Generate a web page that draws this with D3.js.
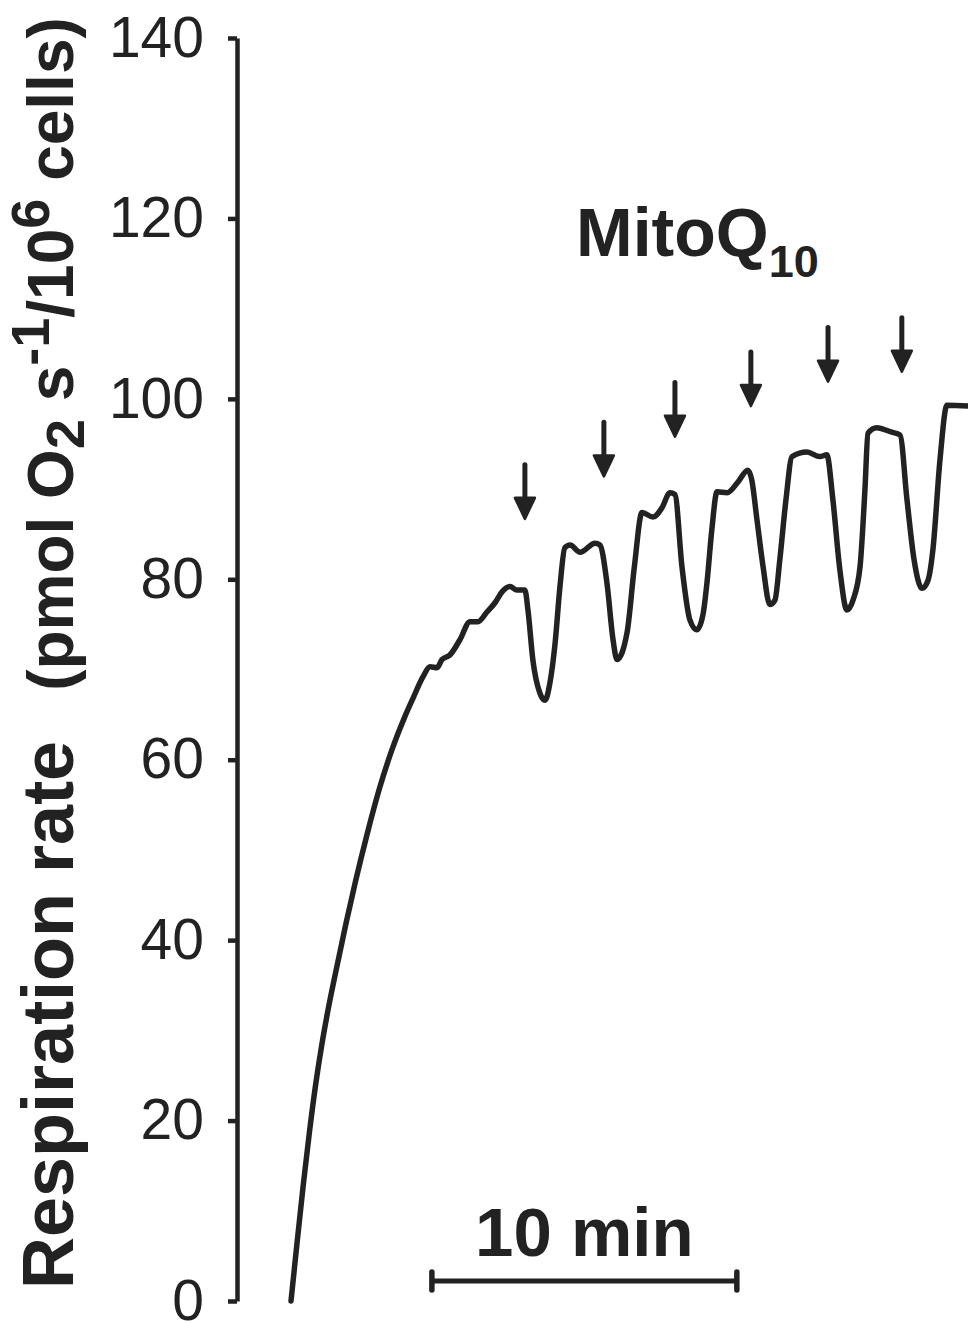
<!DOCTYPE html>
<html>
<head>
<meta charset="utf-8">
<script src="https://cdn.jsdelivr.net/npm/d3@7"></script>
<style>
  body { margin: 0; background: #fff; }
  text { font-family: "Liberation Sans", Arial, sans-serif; fill: #222; }
</style>
</head>
<body>
<svg width="968" height="1324"></svg>
<script>
// trace: time in minutes from trace start, rate in pmol O2/s/10^6 cells
var traceTime = [0, 0.2, 0.4, 0.6, 0.8, 1.0, 1.2, 1.5, 1.8, 2.1, 2.5, 2.9, 3.3, 3.7, 4.0, 4.33, 4.56,
  4.79, 4.95, 5.21, 5.54, 5.87, 6.13, 6.43, 6.69, 6.92, 7.18, 7.41, 7.67, 7.77, 7.93, 8.16, 8.33, 8.49, 8.66, 8.82, 8.98,
  9.15, 9.48, 9.97, 10.13, 10.36, 10.56, 10.69, 11.02, 11.26, 11.51, 11.87, 12.16, 12.43, 12.59, 12.82, 13.08, 13.31, 13.51, 13.64, 13.80,
  13.97, 14.30, 14.66, 14.98, 15.11, 15.28, 15.48, 15.70, 15.87, 16.03, 16.23, 16.43, 16.92, 17.34, 17.57, 17.77, 18.00, 18.23, 18.43, 18.66,
  18.82, 18.92, 19.21, 19.70, 19.97, 20.20, 20.43, 20.69, 20.89, 21.05, 21.28, 21.51, 22.20];
var traceRate = [0, 6.5, 12.8, 18.6, 23.8, 28.2, 32.0, 37.0, 41.8, 46.3, 51.8, 56.8, 61.0, 64.5, 66.8, 69.2, 70.3,
  70.2, 71.1, 71.6, 73.3, 75.3, 75.3, 76.4, 77.4, 78.6, 79.2, 78.8, 78.8, 76.6, 71.1, 67.4, 66.6, 68.5, 72.9, 79.2, 83.5,
  83.8, 83.0, 84.0, 83.8, 79.6, 73.3, 71.1, 74.1, 81.4, 87.4, 86.9, 87.9, 89.6, 89.4, 81.4, 75.5, 74.4, 76.1, 79.6, 85.5,
  89.7, 89.6, 90.8, 92.1, 91.0, 86.6, 81.4, 77.2, 77.7, 82.2, 88.8, 93.6, 94.1, 93.6, 93.8, 88.8, 81.0, 76.6, 77.7, 81.4,
  89.9, 96.2, 96.8, 96.3, 96.0, 88.8, 82.2, 79.0, 79.9, 83.3, 93.2, 99.3, 99.2];

// MitoQ10 additions (arrows): time and rate at the arrow tip
var arrowTime = [7.67, 10.26, 12.59, 15.08, 17.61, 20.03];
var arrowTip = [86.7, 91.4, 95.8, 99.2, 101.9, 103.0];
var arrowLen = 6.0;

var yTicks = [0, 20, 40, 60, 80, 100, 120, 140];

// 10 min scale bar
var barStart = 4.62, barLength = 10;

var svg = d3.select("svg");
var ink = "#222";

var x = d3.scaleLinear().domain([0, 22.2]).range([291, 968]);
var y = d3.scaleLinear().domain([0, 140]).range([1301, 38]);

// y axis
var yAxis = svg.append("g")
    .attr("transform", "translate(237,0)")
    .call(d3.axisLeft(y)
      .tickValues(yTicks)
      .tickSize(9)
      .tickSizeOuter(0)
      .tickPadding(24));

yAxis.select(".domain").attr("stroke", ink).attr("stroke-width", 4.5);
yAxis.selectAll(".tick line").attr("stroke", ink).attr("stroke-width", 4.5);
yAxis.selectAll(".tick text")
    .attr("fill", ink)
    .style("font-size", "57px")
    .style("font-family", "'Liberation Sans', Arial, sans-serif");

// y axis title, one rotated line
var title = svg.append("text")
    .attr("transform", "translate(73,1289) rotate(-90)")
    .style("font-weight", "bold");
title.append("tspan").style("font-size", "72px").text("Respiration rate");
title.append("tspan").attr("dx", 50).style("font-size", "64px").text("(pmol O");
title.append("tspan").attr("dy", 11).style("font-size", "54px").text("2");
title.append("tspan").attr("dy", -11).style("font-size", "64px").text(" s");
title.append("tspan").attr("dy", -24).style("font-size", "54px").text("-1");
title.append("tspan").attr("dy", 24).style("font-size", "64px").text("/10");
title.append("tspan").attr("dy", -24).style("font-size", "54px").text("6");
title.append("tspan").attr("dy", 24).style("font-size", "64px").text(" cells)");

// trace
var pts = traceTime.map(function(t, i) { return [t, traceRate[i]]; });
var line = d3.line()
    .curve(d3.curveMonotoneX)
    .x(function(d) { return x(d[0]); })
    .y(function(d) { return y(d[1]); });

svg.append("path")
    .datum(pts)
    .attr("d", line)
    .attr("fill", "none")
    .attr("stroke", ink)
    .attr("stroke-width", 5.5)
    .attr("stroke-linejoin", "round")
    .attr("stroke-linecap", "round");

// arrows
var arrows = svg.selectAll(".arrow")
    .data(arrowTime.map(function(t, i) { return {t: t, v: arrowTip[i]}; }))
    .enter().append("g")
    .attr("class", "arrow");

arrows.append("line")
    .attr("x1", function(d) { return x(d.t); })
    .attr("x2", function(d) { return x(d.t); })
    .attr("y1", function(d) { return y(d.v + arrowLen); })
    .attr("y2", function(d) { return y(d.v) - 18; })
    .attr("stroke", ink)
    .attr("stroke-width", 5)
    .attr("stroke-linecap", "round");

arrows.append("path")
    .attr("d", function(d) {
      var px = x(d.t), py = y(d.v);
      return "M" + (px - 10) + "," + (py - 21) + "L" + (px + 10) + "," + (py - 21) + "L" + px + "," + py + "Z";
    })
    .attr("fill", ink)
    .attr("stroke", ink)
    .attr("stroke-width", 2.5)
    .attr("stroke-linejoin", "round");

// MitoQ10 label
var lab = svg.append("text")
    .attr("x", 576)
    .attr("y", 256)
    .style("font-weight", "bold");
lab.append("tspan").style("font-size", "68px").text("MitoQ");
lab.append("tspan").attr("dy", 21).style("font-size", "45px").text("10");

// scale bar
var bar = svg.append("g");
bar.append("line")
    .attr("x1", x(barStart)).attr("x2", x(barStart + barLength))
    .attr("y1", 1281).attr("y2", 1281)
    .attr("stroke", ink).attr("stroke-width", 5);
bar.selectAll(".cap")
    .data([barStart, barStart + barLength])
    .enter().append("line")
    .attr("x1", function(d) { return x(d); })
    .attr("x2", function(d) { return x(d); })
    .attr("y1", 1272).attr("y2", 1290)
    .attr("stroke", ink).attr("stroke-width", 5.5)
    .attr("stroke-linecap", "round");
bar.append("text")
    .attr("x", x(barStart + barLength / 2))
    .attr("y", 1256)
    .attr("text-anchor", "middle")
    .style("font-size", "69px")
    .style("font-weight", "bold")
    .text("10 min");
</script>
</body>
</html>
